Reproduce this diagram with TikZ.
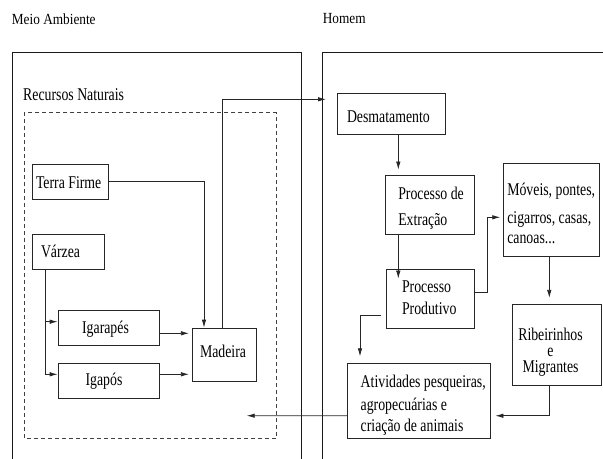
\documentclass[tikz,border=0pt]{standalone}
\usepackage{fontspec}
\setmainfont{Liberation Serif}
\newfontfamily\bxfont[FakeStretch=0.77]{Liberation Serif}
\newfontfamily\hdfont[FakeStretch=0.86]{Liberation Serif}
\usetikzlibrary{arrows.meta}
% text line helpers
\newcommand\lineL[1]{\hbox{#1}}
\newcommand\lineC[1]{\hbox to\hsize{\hfil#1\hfil}}
% #1 box width, #2 left padding, #3 lines
\newcommand\mkL[3]{\hbox to #1{\hskip #2\vtop{\baselineskip=20bp\lineskiplimit=-100bp\relax #3}\hfil}}
% #1 box width, #2 width in which lines are centred (from the left), #3 lines
\newcommand\mkC[3]{\hbox to #1{\vtop{\hsize=#2\baselineskip=20bp\lineskiplimit=-100bp\relax #3}\hfil}}
\begin{document}
\begin{tikzpicture}[x=1bp,y=-1bp,
  bxtxt/.style={font={\bxfont\fontsize{18}{20}\selectfont}},
  bx/.style={draw=black!85, line width=0.8bp, inner sep=0pt, bxtxt},
  conn/.style={draw=black!85, line width=0.8bp},
  arr/.style={conn, -{Latex[length=8bp,width=4.5bp]}},
  frame/.style={draw=black!90, line width=0.8bp},
  dashbox/.style={draw=black!75, line width=0.8bp, dash pattern=on 4bp off 3bp},
  hd/.style={font={\hdfont\fontsize{15.5}{18}\selectfont}, inner sep=0pt, anchor=base west},
  lbl/.style={bxtxt, inner sep=0pt, anchor=base west},
]
\useasboundingbox (0,0) rectangle (603,459);

% frames
\draw[frame] (12,459) -- (12,52.7) -- (301.7,52.7) -- (301.7,459);
\draw[frame] (322.7,459) -- (322.7,52.7) -- (603,52.7);
\draw[dashbox] (24,112.3) rectangle (276,438.5);

% headings
\node[hd] (meio) at (11.7,24.3) {Meio Ambiente};
\node[hd] (homem) at (322.7,24) {Homem};
\node[lbl] (recursos) at (23,100.7) {Recursos Naturais};

% left boxes
\node[bx, text height=25bp, text depth=10bp] (termf) at (70,181.5)
  {\mkL{76bp}{4bp}{\lineL{Terra Firme}}};
\node[bx, text height=24bp, text depth=11bp] (varzea) at (68,251.5)
  {\mkL{72bp}{9bp}{\lineL{Várzea}}};
\node[bx, text height=23.3bp, text depth=11.7bp] (igarapes) at (108.5,327.5)
  {\mkC{101bp}{95bp}{\lineC{Igarapés}}};
\node[bx, text height=22.7bp, text depth=12.3bp] (igapos) at (108.5,380.5)
  {\mkC{101bp}{92bp}{\lineC{Igapós}}};
\node[bx, text height=29.3bp, text depth=23.7bp] (madeira) at (224,354.5)
  {\mkC{64bp}{62bp}{\lineC{Madeira}}};

% right boxes
\node[bx, text height=30bp, text depth=11bp] (desmat) at (391,113.5)
  {\mkL{108bp}{10bp}{\lineL{Desmatamento}}};
\node[bx, text height=24.2bp, text depth=34.3bp] (extr) at (429.5,204.75)
  {\mkL{89bp}{13.3bp}{\lineL{Processo de}\vskip5.6bp\lineL{Extração}}};
\node[bx, text height=23.7bp, text depth=35.3bp] (prod) at (430,298.5)
  {\mkL{88bp}{16bp}{\lineL{Processo}\vskip1.6bp\lineL{Produtivo}}};
\node[bx, text height=32.3bp, text depth=60.7bp] (moveis) at (551.55,210.2)
  {\mkL{96.5bp}{4bp}{\lineL{Móveis, pontes,}\vskip8bp\lineL{cigarros, casas,}\lineL{canoas...}}};
\node[bx, text height=35.7bp, text depth=45.8bp] (ribei) at (556.5,345.05)
  {\mkC{89bp}{77bp}{\lineC{Ribeirinhos}\vskip-3.3bp\lineC{e}\vskip-4.4bp\lineC{Migrantes}}};
\node[bx, text height=24.3bp, text depth=51.2bp] (ativ) at (418.75,400.75)
  {\mkL{142.5bp}{13.2bp}{\lineL{Atividades pesqueiras,}\vskip2.7bp\lineL{agropecuárias e}\vskip1.7bp\lineL{criação de animais}}};

% connectors, left side
\coordinate (homin) at (326,99.3);
\draw[arr] ([xshift=-2bp]madeira.north) |- (homin);
\draw[arr] (termf.east) -| ([xshift=-20bp]madeira.north);
\coordinate (vz) at ([xshift=-23bp]varzea.south);
\coordinate (igaIn) at ([yshift=5.8bp]igarapes.west);
\coordinate (igpIn) at ([yshift=6.2bp]igapos.west);
\draw[arr] (vz) |- (igpIn);
\draw[arr] (vz |- igaIn) -- (igaIn);
\coordinate (igaOut) at ([yshift=-5.8bp]igarapes.east);
\coordinate (igpOut) at ([yshift=6.2bp]igapos.east);
\draw[arr, shorten >=2.7bp] (igaOut) -- (igaOut -| madeira.west);
\draw[arr, shorten >=2.7bp] (igpOut) -- (igpOut -| madeira.west);

% connectors, right side
\coordinate (d1) at ([xshift=7.3bp]desmat.south);
\draw[arr, shorten >=5.5bp] (d1) -- (d1 |- extr.north);
\coordinate (e1) at ([xshift=-31.2bp]extr.south);
\draw[arr, shorten >=-10bp] (e1) -- (e1 |- prod.north);
\coordinate (p1) at ([yshift=6.2bp]prod.east);
\coordinate (m1) at ([yshift=-7.1bp]moveis.west);
\draw[arr, shorten >=2.6bp] (p1) -- ++(12.7,0) |- (m1);
\coordinate (m2) at ([xshift=-2.25bp]moveis.south);
\draw[arr, shorten >=6bp] (m2) -- (m2 |- ribei.north);
\coordinate (a1) at ([yshift=-15bp]ativ.east);
\draw[arr, shorten >=5bp] ([xshift=-7.2bp]ribei.south) |- (a1);
\coordinate (p2) at ([yshift=-17.2bp]prod.west);
\draw[arr, shorten <=4.3bp, shorten >=6.3bp] (p2) -| ([xshift=-58.75bp]ativ.north);
\coordinate (a2) at ([yshift=-15bp]ativ.west);
\coordinate (mout) at (246.7,415.7);
\draw[arr] (a2) -- (mout);
\end{tikzpicture}
\end{document}
